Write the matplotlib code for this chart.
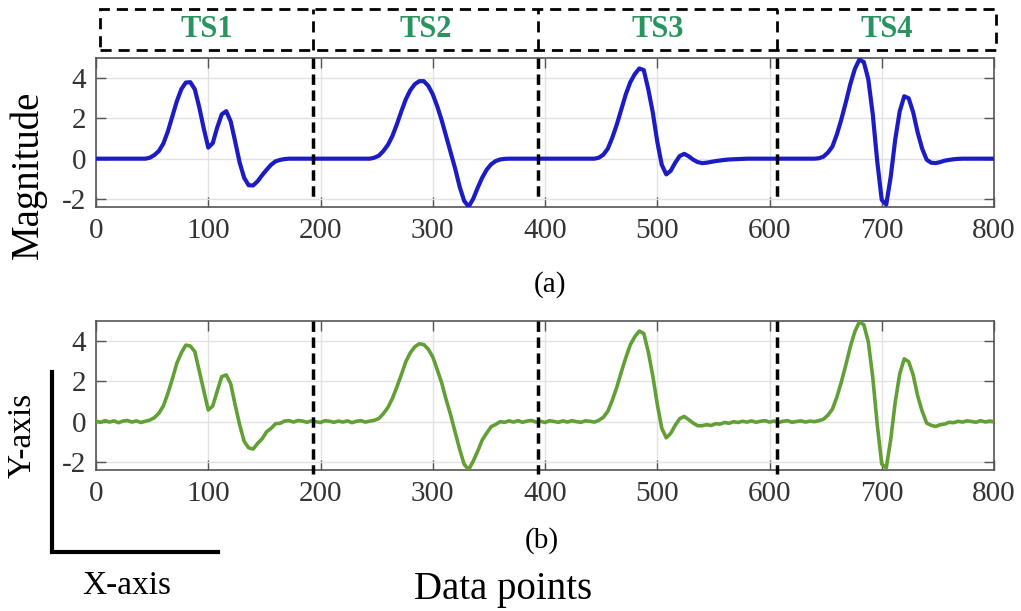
import numpy as np
import matplotlib
matplotlib.use('Agg')      # no display
import matplotlib.pyplot as plt
import matplotlib.transforms as mtrans
from matplotlib.patches import Rectangle
from matplotlib.lines import Line2D

plt.rcParams['font.family'] = ['Liberation Serif', 'DejaVu Serif']
plt.rcParams['axes.unicode_minus'] = False

# samples, one every 4 data points (0..800)
STEP = 4
clean = [
    0, 0, 0, 0, 0, 0, 0, 0, 0, 0, 0, 0,
    0.05, 0.18, 0.38, 0.75, 1.35, 2.1, 2.85, 3.45, 3.78, 3.8,
    3.45, 2.55, 1.5, 0.55, 0.77, 1.55, 2.2, 2.36, 1.85, 0.85,
    -0.2, -0.95, -1.32, -1.33, -1.12, -0.82, -0.55, -0.3, -0.13, -0.06,
    -0.02,
    0, 0, 0, 0, 0, 0, 0, 0, 0, 0, 0, 0, 0, 0, 0, 0, 0, 0, 0,
    0.05, 0.15, 0.38, 0.68, 1.12, 1.7, 2.35, 2.95, 3.4, 3.7,
    3.85, 3.85, 3.62, 3.2, 2.6, 1.9, 1.1, 0.3, -0.5, -1.4,
    -2.1, -2.38, -2.0, -1.45, -0.95, -0.55, -0.28, -0.12, -0.04, -0.01,
    0, 0, 0, 0, 0, 0, 0, 0, 0, 0, 0, 0, 0, 0, 0, 0, 0, 0, 0, 0,
    0.05, 0.2, 0.5, 1.05, 1.7, 2.45, 3.2, 3.8, 4.2, 4.48,
    4.4, 3.45, 2.3, 0.85, -0.3, -0.78, -0.6, -0.2, 0.13, 0.24,
    0.12, -0.05, -0.17, -0.22, -0.2, -0.16, -0.12, -0.09, -0.06, -0.04,
    -0.03, -0.02, -0.01,
    0, 0, 0, 0, 0, 0, 0, 0, 0, 0, 0, 0, 0, 0, 0, 0,
    0.02, 0.1, 0.3, 0.6, 1.2, 1.95, 2.8, 3.7, 4.45, 4.92,
    4.8, 3.95, 2.2, -0.15, -2.05, -2.28, -0.9, 0.95, 2.35, 3.1,
    3.0, 2.3, 1.3, 0.5, -0.05, -0.2, -0.22, -0.17, -0.1, -0.06,
    -0.03, -0.01,
    0, 0, 0, 0, 0, 0, 0, 0,
]
noisy = [
    0.02, -0.03, 0.05, -0.02, 0.04, -0.05, 0.03, 0.06, -0.02, 0.04, -0.04, 0.02,
    0.08, 0.2, 0.42, 0.78, 1.4, 2.12, 2.9, 3.42, 3.8, 3.76,
    3.48, 2.52, 1.55, 0.58, 0.78, 1.52, 2.24, 2.32, 1.88, 0.82,
    -0.16, -0.98, -1.3, -1.36, -1.08, -0.85, -0.5, -0.33, -0.1, -0.08,
    0.03,
    0.05, -0.02, 0.06, 0.03, -0.03, 0.04, 0.0, -0.04, 0.05, 0.02,
    -0.03, 0.03, -0.02, 0.04, -0.05, 0.02, 0.05, -0.02, 0.03,
    0.07, 0.16, 0.4, 0.7, 1.15, 1.72, 2.33, 2.98, 3.42, 3.72,
    3.87, 3.83, 3.6, 3.22, 2.58, 1.92, 1.08, 0.32, -0.52, -1.38,
    -2.12, -2.38, -1.97, -1.47, -0.92, -0.57, -0.25, -0.14, 0.0, -0.03,
    0.04, -0.02, 0.05, -0.03, 0.03, 0.06, -0.02, 0.02, -0.04, 0.05,
    0.01, -0.03, 0.04, -0.02, 0.05, 0.0, -0.03, 0.04, 0.02, -0.02,
    0.07, 0.22, 0.52, 1.07, 1.72, 2.47, 3.18, 3.82, 4.22, 4.5,
    4.38, 3.47, 2.28, 0.87, -0.32, -0.8, -0.58, -0.18, 0.15, 0.26,
    0.1, -0.07, -0.2, -0.2, -0.15, -0.19, -0.1, -0.12, -0.04, -0.08,
    0.0, -0.04, 0.02,
    -0.02, 0.04, -0.03, 0.02, 0.05, -0.02, 0.03, -0.04,
    0.02, 0.05, -0.03, 0.01, 0.04, -0.02, 0.03, 0.0,
    0.05, 0.12, 0.32, 0.62, 1.22, 1.97, 2.82, 3.72, 4.47, 4.95,
    4.82, 3.97, 2.2, -0.15, -2.1, -2.3, -0.88, 0.97, 2.37, 3.12,
    2.98, 2.32, 1.28, 0.52, -0.07, -0.18, -0.24, -0.15, -0.12, -0.03,
    -0.05, 0.02,
    -0.02, 0.04, 0.01, -0.03, 0.05, -0.01, 0.03, 0.0,
]
boundaries = [193, 394, 607]
segment_labels = ['TS1', 'TS2', 'TS3', 'TS4']
x_ticks = [0, 100, 200, 300, 400, 500, 600, 700, 800]
y_ticks = [-2, 0, 2, 4]

W, H = 1021, 611
GREEN_TXT = '#2a9460'


def fx(px):
    return px / W


def fy(py):
    return 1 - py / H


def style_axes(ax):
    ax.set_xlim(0, 800)
    ax.set_ylim(-2.4, 5)
    ax.set_xticks(x_ticks)
    ax.set_yticks(y_ticks)
    ax.grid(True, color='#e2e2e2', lw=1)
    ax.set_axisbelow(True)
    ax.tick_params(direction='in', top=True, right=True, length=7, width=1,
                   colors='#555555', labelcolor='#333333', labelsize=21)
    ax.tick_params(axis='x', pad=8)
    ax.tick_params(axis='y', pad=7)
    for s in ax.spines.values():
        s.set_color('#555555')
        s.set_linewidth(1.2)


x = np.arange(len(clean)) * STEP

fig = plt.figure(figsize=(W / 100, H / 100), dpi=100)
ax_a = fig.add_axes([fx(96), fy(207), fx(898), 149 / H])
ax_b = fig.add_axes([fx(96), fy(470), fx(898), 149 / H])

for ax in (ax_a, ax_b):
    style_axes(ax)

ax_a.plot(x, clean, color='#1c1cc4', lw=3, solid_joinstyle='round',
          solid_capstyle='round', zorder=3)
ax_b.plot(x, noisy, color='#62a035', lw=2.6, solid_joinstyle='round',
          solid_capstyle='round', zorder=3)

for b in boundaries:
    ax_a.plot([b, b], [5, -2.0], color='k', lw=2.5, ls=(0, (3, 1.6)),
              clip_on=False, zorder=5)
    ax_b.plot([b, b], [5, -2.6], color='k', lw=2.5, ls=(0, (3, 1.6)),
              clip_on=False, zorder=5)

# dashed box with the segment names above panel (a)
trans = mtrans.blended_transform_factory(ax_a.transData, ax_a.transAxes)
box_lo, box_hi = 1.054, 1.327
ax_a.add_patch(Rectangle((4, box_lo), 798, box_hi - box_lo, transform=trans,
                         fill=False, ec='k', lw=2, ls=(0, (4, 2.5)), clip_on=False))
for b in boundaries:
    ax_a.plot([b, b], [box_lo, box_hi], transform=trans, color='k', lw=2,
              ls=(0, (4, 2.5)), clip_on=False)
edges = [4] + boundaries + [802]
for i, lab in enumerate(segment_labels):
    mid = (edges[i] + edges[i + 1]) / 2
    ax_a.text(mid, 1.19, lab, transform=trans, ha='center', va='center',
              fontsize=22, fontweight='bold', color=GREEN_TXT)

fig.text(fx(28), fy(175), 'Magnitude', rotation=90, ha='center', va='center', fontsize=28)
fig.text(fx(550), fy(285), '(a)', ha='center', va='center', fontsize=21)
fig.text(fx(542), fy(541), '(b)', ha='center', va='center', fontsize=21)
fig.text(fx(503), fy(590), 'Data points', ha='center', va='center', fontsize=28)
fig.text(fx(22), fy(435), 'Y-axis', rotation=90, ha='center', va='center', fontsize=24)
fig.text(fx(127), fy(586), 'X-axis', ha='center', va='center', fontsize=24)

# L-shaped axis indicator
fig.add_artist(Line2D([fx(52), fx(52), fx(218)], [fy(372), fy(552), fy(552)],
                      color='k', lw=3, solid_joinstyle='miter'))

fig.savefig('out.png', dpi=100)
plt.close(fig)
